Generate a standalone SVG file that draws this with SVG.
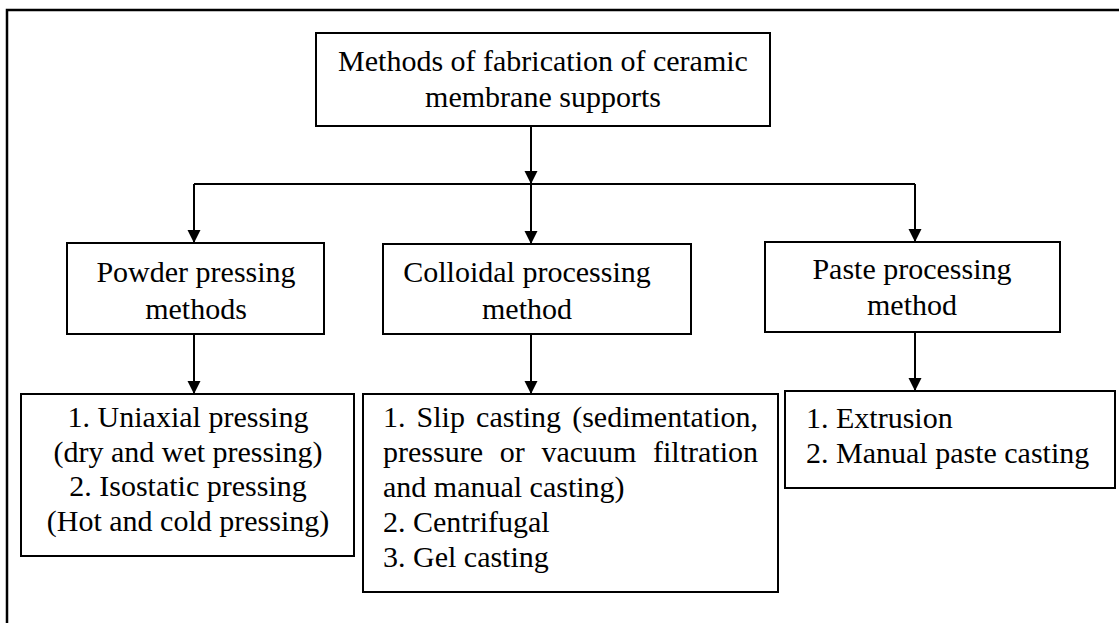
<svg xmlns="http://www.w3.org/2000/svg" width="1119" height="623" viewBox="0 0 1119 623">
<style>
  .box { fill: #ffffff; stroke: #000000; stroke-width: 2; }
  .t { font-family: "Liberation Serif", "Times New Roman", serif; font-size: 30px; fill: #000000; }
  .c { text-anchor: middle; }
  .e { text-anchor: end; }
  .ln { stroke: #000000; stroke-width: 2; fill: none; }
  .frame { stroke: #000000; stroke-width: 2.5; fill: none; }
</style>
<defs>
  <marker id="ah" markerUnits="userSpaceOnUse" markerWidth="14" markerHeight="14" refX="13" refY="6.5" orient="auto">
    <path d="M0,0 L13,6.5 L0,13 Z" fill="#000000"/>
  </marker>
</defs>
<rect width="1119" height="623" fill="#ffffff"/>
<path class="frame" d="M7,623 L7,10 L1119,10"/>

<g id="connectors">
  <line class="ln" x1="531" y1="126" x2="531" y2="184" marker-end="url(#ah)"/>
  <line class="ln" x1="194" y1="184" x2="915" y2="184"/>
  <line class="ln" x1="194" y1="184" x2="194" y2="243" marker-end="url(#ah)"/>
  <line class="ln" x1="531" y1="184" x2="531" y2="244" marker-end="url(#ah)"/>
  <line class="ln" x1="915" y1="184" x2="915" y2="242" marker-end="url(#ah)"/>
  <line class="ln" x1="194" y1="334" x2="194" y2="394" marker-end="url(#ah)"/>
  <line class="ln" x1="531" y1="334" x2="531" y2="394" marker-end="url(#ah)"/>
  <line class="ln" x1="915" y1="332" x2="915" y2="391" marker-end="url(#ah)"/>
</g>

<g id="root">
  <rect class="box" x="316" y="33" width="454" height="93"/>
  <text class="t c" x="543" y="71">Methods of fabrication of ceramic</text>
  <text class="t c" x="543" y="107">membrane supports</text>
</g>

<g id="powder">
  <rect class="box" x="67" y="243" width="257" height="91"/>
  <text class="t c" x="196" y="282">Powder pressing</text>
  <text class="t c" x="196" y="319">methods</text>
</g>

<g id="colloidal">
  <rect class="box" x="383" y="244" width="308" height="90"/>
  <text class="t c" x="527" y="282">Colloidal processing</text>
  <text class="t c" x="527" y="319">method</text>
</g>

<g id="paste">
  <rect class="box" x="765" y="242" width="295" height="90"/>
  <text class="t c" x="912" y="279">Paste processing</text>
  <text class="t c" x="912" y="315">method</text>
</g>

<g id="powder-list">
  <rect class="box" x="21" y="394" width="333" height="162"/>
  <text class="t c" x="188" y="427">1. Uniaxial pressing</text>
  <text class="t c" x="188" y="461.5">(dry and wet pressing)</text>
  <text class="t c" x="188" y="496">2. Isostatic pressing</text>
  <text class="t c" x="188" y="530.5">(Hot and cold pressing)</text>
</g>

<g id="colloidal-list">
  <rect class="box" x="363" y="394" width="415" height="198"/>
  <text class="t" y="427"><tspan x="383">1.</tspan> <tspan x="416.6">Slip</tspan> <tspan x="476.1">casting</tspan></text>
  <text class="t e" x="758" y="427">(sedimentation,</text>
  <text class="t" y="462"><tspan x="383">pressure</tspan> <tspan x="499.7">or</tspan> <tspan x="541.4">vacuum</tspan></text>
  <text class="t e" x="758" y="462">filtration</text>
  <text class="t" x="383" y="497">and manual casting)</text>
  <text class="t" x="383" y="532">2. Centrifugal</text>
  <text class="t" x="383" y="567">3. Gel casting</text>
</g>

<g id="paste-list">
  <rect class="box" x="785" y="391" width="330" height="97"/>
  <text class="t" x="806" y="428">1. Extrusion</text>
  <text class="t" x="806" y="463">2. Manual paste casting</text>
</g>
</svg>
